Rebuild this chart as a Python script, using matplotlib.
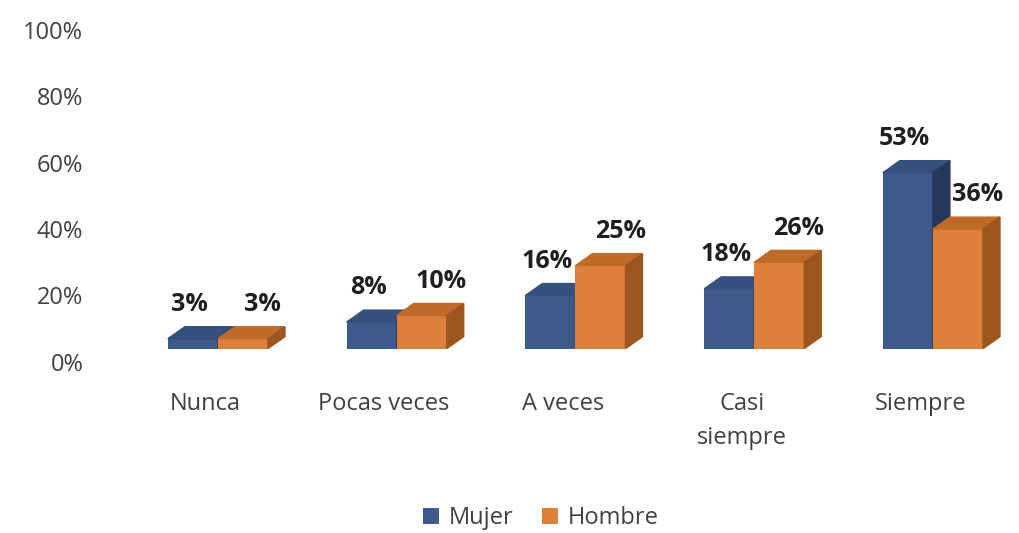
import matplotlib.pyplot as plt
from matplotlib.patches import Polygon

categories = ["Nunca", "Pocas veces", "A veces", "Casi\nsiempre", "Siempre"]
mujer = [3, 8, 16, 18, 53]
hombre = [3, 10, 25, 26, 36]
yticks = [0, 20, 40, 60, 80, 100]

plt.rcParams['font.family'] = ['Open Sans', 'DejaVu Sans']

fig = plt.figure(figsize=(10.2, 5.33), dpi=100)
ax = fig.add_axes([0.098, 0.321, 0.892, 0.623])

w = 0.28      # bar width (category units)
dx = 0.095    # depth to the right
dy = 3.6      # depth upwards (in %)
base = 4      # floor offset of the front faces

series = [
    (mujer, -0.21, -0.02, '#3D5A8A', '#34507C', '#27395A', 'Mujer'),
    (hombre, 0.07, 0.11, '#DE7F3B', '#C06A2A', '#9E561F', 'Hombre'),
]

for vals, off, lab_off, front, top, side, name in series:
    xs = [i + off for i in range(len(vals))]
    ax.bar(xs, vals, width=w, bottom=base, align='edge', color=front,
           label=name, zorder=2)
    for x, v in zip(xs, vals):
        y = base + v
        ax.add_patch(Polygon([(x, y), (x + dx, y + dy), (x + w + dx, y + dy), (x + w, y)],
                             closed=True, color=top, zorder=2))
        ax.add_patch(Polygon([(x + w, base), (x + w + dx, base + dy),
                              (x + w + dx, y + dy), (x + w, y)],
                             closed=True, color=side, zorder=2))
        ax.annotate(f"{v}%", (x + w / 2 + lab_off, y + dy), xytext=(0, 7),
                    textcoords='offset points', ha='center', va='bottom',
                    fontsize=18, fontweight='bold', color='#1F1F1F')

ax.set_xlim(-0.59, 4.5)
ax.set_ylim(0, 100)
ax.set_xticks(range(len(categories)))
ax.set_xticklabels(categories, fontsize=17, color='#404040', linespacing=1.55)
ax.set_yticks(yticks)
ax.set_yticklabels([f"{t}%" for t in yticks], fontsize=17, color='#404040')
ax.tick_params(axis='both', length=0)
ax.tick_params(axis='x', pad=22)
ax.tick_params(axis='y', pad=12)
for s in ax.spines.values():
    s.set_visible(False)

fig.legend(loc='lower center', bbox_to_anchor=(0.53, -0.035), ncol=2, frameon=False,
           fontsize=17, labelcolor='#404040', handlelength=0.7, handleheight=0.7,
           handletextpad=0.4, columnspacing=1.2)

fig.savefig('out.png', dpi=100)
